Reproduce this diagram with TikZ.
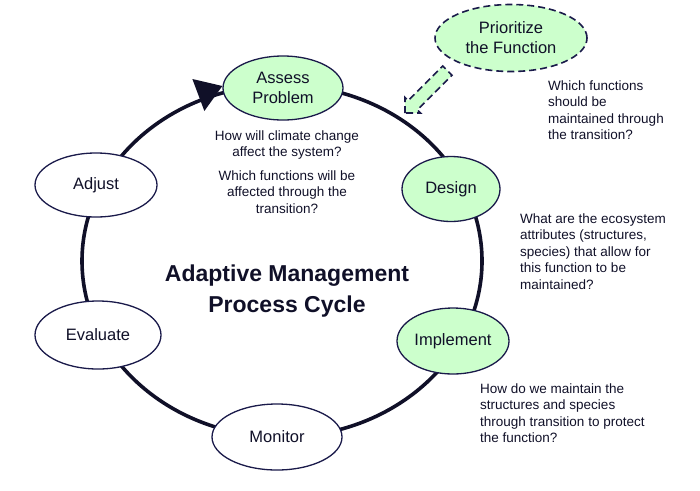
\documentclass[tikz,border=0pt]{standalone}
\usepackage{fontspec}
\setmainfont{Liberation Sans}
\usetikzlibrary{shapes.geometric}
\definecolor{navy}{HTML}{1A1A4A}
\definecolor{ink}{HTML}{101028}
\definecolor{mint}{HTML}{CCFFCC}
\begin{document}
\begin{tikzpicture}[x=1pt,y=-1pt,
  stage/.style={ellipse, draw=navy, line width=1.3pt, fill=white, inner sep=0pt,
    align=center, text=ink, font=\fontsize{16.5}{20}\selectfont},
  keystage/.style={stage, fill=mint},
  note/.style={text=ink, font=\fontsize{13.5}{16.6}\selectfont, inner sep=0pt},
  dashbox/.style={draw=navy, line width=1.6pt, dash pattern=on 7pt off 4pt, fill=mint},
  cycleline/.style={draw=ink, line width=3.6pt}]
\useasboundingbox (0,0) rectangle (700,490);

% main cycle
\draw[cycleline] (282,261) ellipse [x radius=200, y radius=176];

% stages
\node[keystage, minimum width=120pt, minimum height=64pt] (assess) at (283,88) {Assess\\Problem};
\node[keystage, minimum width=98pt, minimum height=65pt] (design) at (451,189) {Design};
\node[keystage, minimum width=112pt, minimum height=66pt] (implement) at (453,341) {Implement};
\node[stage, minimum width=130pt, minimum height=66pt] (monitor) at (277,437) {Monitor};
\node[stage, minimum width=126pt, minimum height=68pt] (evaluate) at (98,335) {Evaluate};
\node[stage, minimum width=122pt, minimum height=64pt] (adjust) at (96,185) {Adjust};

% arrowhead into Assess Problem
\fill[ink] ([yshift=2pt]assess.west) -- ++(-30,-7) -- ++(12,32) -- cycle;

% prioritize
\node[stage, dashbox, minimum width=152pt, minimum height=67pt] (prior) at (511,38) {Prioritize\\the Function};
\draw[dashbox, line join=miter] (405,113) -- (405,97.4) -- (408.2,100.6) -- (442.8,66)
  -- (452,75.2) -- (417.4,109.8) -- (420.6,113) -- cycle;

% notes (anchor = baseline of the last line)
\node[note, align=center, anchor=base] (q1) at (287,156.6) {How will climate change\\affect the system?};
\node[note, align=center, anchor=base] (q2) at (287,213.2) {Which functions will be\\affected through the\\transition?};
\node[note, align=left, anchor=base west] (q3) at (548,139.8) {Which functions\\should be\\maintained through\\the transition?};
\node[note, align=left, anchor=base west] (q4) at (520,289.4) {What are the ecosystem\\attributes (structures,\\species) that allow for\\this function to be\\maintained?};
\node[note, align=left, anchor=base west] (q5) at (480,442.8) {How do we maintain the\\structures and species\\through transition to protect\\the function?};

% title
\node[text=ink, font=\fontsize{23}{31}\selectfont\bfseries, align=center, anchor=base, inner sep=0pt] (title) at (287,312.5) {Adaptive Management\\Process Cycle};
\end{tikzpicture}
\end{document}
